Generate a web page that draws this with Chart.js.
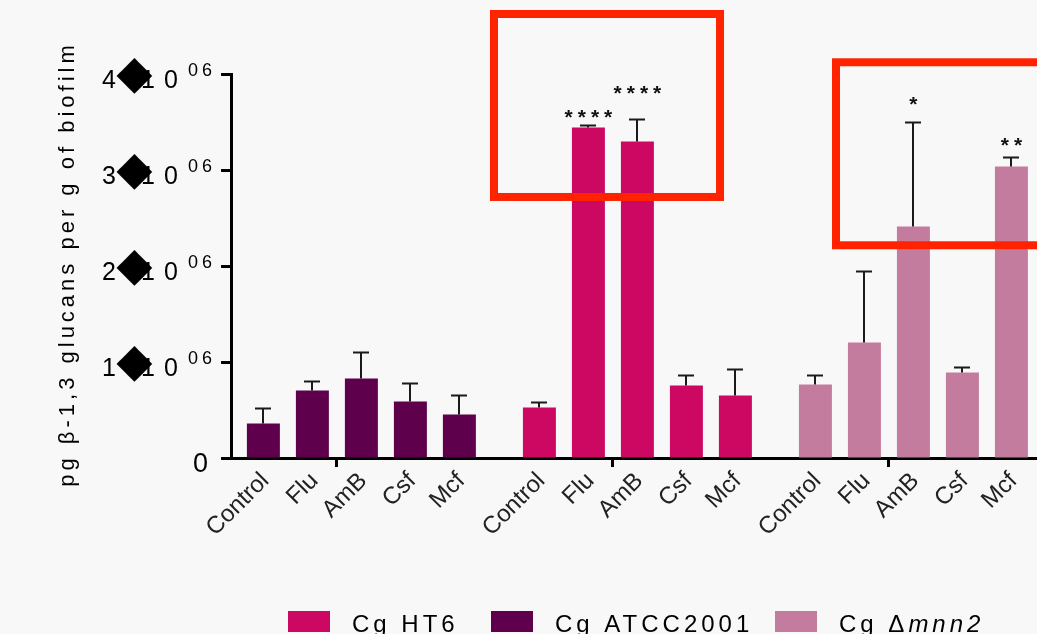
<!DOCTYPE html>
<html>
<head>
<meta charset="utf-8">
<script src="https://cdn.jsdelivr.net/npm/chart.js@4.4.1/dist/chart.umd.min.js"></script>
<style>
  html, body { margin: 0; padding: 0; background: #f8f8f8; }
  #wrap { position: relative; width: 1037px; height: 634px; }
</style>
</head>
<body>
<div id="wrap"><canvas id="myChart"></canvas></div>
<script>
// treatments, same five in every strain group
const categories = ["Control", "Flu", "AmB", "Csf", "Mcf"];

// mean and SD, in 10^6 pg per g of biofilm
const ht6Mean  = [0.526, 3.443, 3.297, 0.755, 0.651];
const ht6Sd    = [0.059, 0.024, 0.232, 0.108, 0.274];
const atccMean = [0.359, 0.703, 0.828, 0.589, 0.453];
const atccSd   = [0.164, 0.101, 0.281, 0.194, 0.205];
const mnn2Mean = [0.766, 1.203, 2.411, 0.891, 3.036];
const mnn2Sd   = [0.097, 0.743, 1.087, 0.052, 0.097];

// y axis ticks (x 10^06)
const yTicks = [0, 1, 2, 3, 4];
const yExp = "06";
const yTitle = "pg β-1,3 glucans per g of biofilm";

// significance marks: dataset index, bar index, text, height (10^6)
const stars = [
  { set: 0, bar: 1, text: "****", level: 3.583 },
  { set: 0, bar: 2, text: "****", level: 3.833 },
  { set: 2, bar: 2, text: "*", level: 3.719 },
  { set: 2, bar: 4, text: "**", level: 3.295 }
];

// red highlight frames, in axis units
const frames = [
  { x0: 4.706, x1: 9.319, y0: 2.719, y1: 4.625 },
  { x0: 11.686, x1: 16.2, y0: 2.216, y1: 4.122 }
];

const FONT = "'Liberation Sans', Arial, sans-serif";
const groupStride = 5.633; // spacing between strain groups, in bar slots

function points(group, values) {
  return values.map((v, i) => ({ x: group * groupStride + i, y: v }));
}

const datasets = [
  { label: "Cg HT6", data: points(1, ht6Mean), sd: ht6Sd, backgroundColor: "#cc0863" },
  { label: "Cg ATCC2001", data: points(0, atccMean), sd: atccSd, backgroundColor: "#5e004b" },
  { label: "Cg Δmnn2", data: points(2, mnn2Mean), sd: mnn2Sd, backgroundColor: "#c47c9e" }
];
const legendX = [288, 491, 775];

// all bar positions on x, sorted
let xPositions = [];
[0, 1, 2].forEach(g => categories.forEach((c, i) => xPositions.push(g * groupStride + i)));

const decorations = {
  id: "decorations",
  beforeDraw(chart) {
    const ctx = chart.ctx;
    ctx.save();
    ctx.fillStyle = "#f8f8f8";
    ctx.fillRect(0, 0, chart.width, chart.height);
    ctx.restore();
  },
  afterDatasetsDraw(chart) {
    const ctx = chart.ctx;
    const xs = chart.scales.x, ys = chart.scales.y;
    ctx.save();

    // error bars (upper only)
    ctx.strokeStyle = "#1a1a1a";
    ctx.lineWidth = 2;
    chart.data.datasets.forEach((ds, i) => {
      chart.getDatasetMeta(i).data.forEach((bar, j) => {
        const top = Math.round(ys.getPixelForValue(ds.data[j].y + ds.sd[j])) + 0.5;
        const bx = Math.round(bar.x);
        ctx.beginPath();
        ctx.moveTo(bx, bar.y);
        ctx.lineTo(bx, top);
        ctx.moveTo(bx - 8, top);
        ctx.lineTo(bx + 8, top);
        ctx.stroke();
      });
    });

    // stars
    ctx.fillStyle = "#111";
    ctx.font = "bold 21px " + FONT;
    ctx.textAlign = "center";
    ctx.textBaseline = "alphabetic";
    ctx.letterSpacing = "5px";
    stars.forEach(s => {
      const bar = chart.getDatasetMeta(s.set).data[s.bar];
      ctx.fillText(s.text, bar.x + 2.5, ys.getPixelForValue(s.level) + 10);
    });
    ctx.letterSpacing = "0px";

    // red frames
    ctx.strokeStyle = "#ff2300";
    ctx.lineWidth = 8;
    frames.forEach(f => {
      const x0 = xs.getPixelForValue(f.x0), x1 = xs.getPixelForValue(f.x1);
      const y0 = ys.getPixelForValue(f.y1), y1 = ys.getPixelForValue(f.y0);
      ctx.strokeRect(x0, y0, x1 - x0, y1 - y0);
    });
    ctx.restore();
  },
  afterDraw(chart) {
    const ctx = chart.ctx;
    const ys = chart.scales.y;
    ctx.save();
    ctx.fillStyle = "#000";

    // y tick labels
    yTicks.forEach(v => {
      const py = ys.getPixelForValue(v);
      ctx.textBaseline = "alphabetic";
      if (v === 0) {
        ctx.font = "27px " + FONT;
        ctx.textAlign = "right";
        ctx.fillText("0", 208, py + 13.5);
        return;
      }
      ctx.font = "25px " + FONT;
      ctx.textAlign = "right";
      ctx.fillText(String(v), 116, py + 13.5);
      ctx.textAlign = "left";
      ctx.letterSpacing = "9px";
      ctx.fillText("10", 141, py + 13.5);
      ctx.font = "18px " + FONT;
      ctx.letterSpacing = "4px";
      ctx.fillText(yExp, 188, py + 1.5);
      ctx.letterSpacing = "0px";
      // the × came out as a diamond box
      ctx.font = "48px 'DejaVu Sans'";
      const m = ctx.measureText("◆");
      const h = m.actualBoundingBoxAscent + m.actualBoundingBoxDescent;
      const k = 36 / h;
      ctx.font = (48 * k).toFixed(1) + "px 'DejaVu Sans'";
      const m2 = ctx.measureText("◆");
      const cx = (m2.actualBoundingBoxRight - m2.actualBoundingBoxLeft) / 2;
      const cy = (m2.actualBoundingBoxAscent - m2.actualBoundingBoxDescent) / 2;
      ctx.textAlign = "left";
      ctx.fillText("◆", 134.5 - cx, py + 1.7 + cy);
    });

    // y title
    ctx.save();
    ctx.translate(68, (chart.chartArea.top + chart.chartArea.bottom) / 2);
    ctx.rotate(-Math.PI / 2);
    ctx.font = "22px " + FONT;
    ctx.letterSpacing = "4px";
    ctx.textAlign = "center";
    ctx.textBaseline = "middle";
    ctx.fillText(yTitle, 2, 0);
    ctx.restore();

    // legend
    ctx.letterSpacing = "4px";
    ctx.textAlign = "left";
    ctx.textBaseline = "alphabetic";
    chart.data.datasets.forEach((ds, i) => {
      const bx = legendX[i];
      ctx.fillStyle = ds.backgroundColor;
      ctx.fillRect(bx, 611, 42, 21);
      ctx.fillStyle = "#000";
      let tx = bx + 64;
      const parts = ds.label.split("Δ");
      ctx.font = "24px " + FONT;
      ctx.fillText(parts[0], tx, 632);
      if (parts.length > 1) {
        tx += ctx.measureText(parts[0]).width;
        ctx.fillText("Δ", tx, 632);
        tx += ctx.measureText("Δ").width;
        ctx.font = "italic 24px " + FONT;
        ctx.fillText(parts[1], tx, 632);
      }
    });
    ctx.restore();
  }
};

const ctx = document.getElementById("myChart").getContext("2d");
new Chart(ctx, {
  type: "bar",
  data: { datasets: datasets },
  plugins: [decorations],
  options: {
    responsive: true,
    maintainAspectRatio: false,
    animation: false,
    layout: { padding: { top: 74, right: 0, left: 0, bottom: 0 } },
    datasets: {
      bar: { grouped: false, barPercentage: 0.673, categoryPercentage: 1, borderWidth: 0 }
    },
    plugins: {
      legend: { display: false },
      title: { display: false },
      tooltip: { enabled: false }
    },
    scales: {
      x: {
        type: "linear",
        min: -0.661,
        max: 15.788,
        offset: false,
        afterBuildTicks: scale => { scale.ticks = xPositions.map(v => ({ value: v })); },
        afterFit: scale => { scale.height = 176; },
        ticks: {
          autoSkip: false,
          minRotation: 45,
          maxRotation: 45,
          padding: 0,
          labelOffset: 2,
          color: "#222",
          font: { family: FONT, size: 24 },
          callback: (value, index) => categories[index % categories.length]
        },
        grid: {
          display: true,
          drawOnChartArea: false,
          drawTicks: true,
          tickLength: 9,
          tickWidth: 3,
          tickColor: c => (c.index % 5 === 2 ? "#000" : "rgba(0,0,0,0)")
        },
        border: { display: true, color: "#000", width: 3 }
      },
      y: {
        min: 0,
        max: 4,
        afterBuildTicks: scale => { scale.ticks = yTicks.map(v => ({ value: v })); },
        afterFit: scale => { scale.width = 231; },
        ticks: { display: false },
        grid: {
          display: true,
          drawOnChartArea: false,
          drawTicks: true,
          tickLength: 10,
          tickWidth: 3,
          tickColor: "#000"
        },
        border: { display: true, color: "#000", width: 3 }
      }
    }
  }
});
</script>
</body>
</html>
